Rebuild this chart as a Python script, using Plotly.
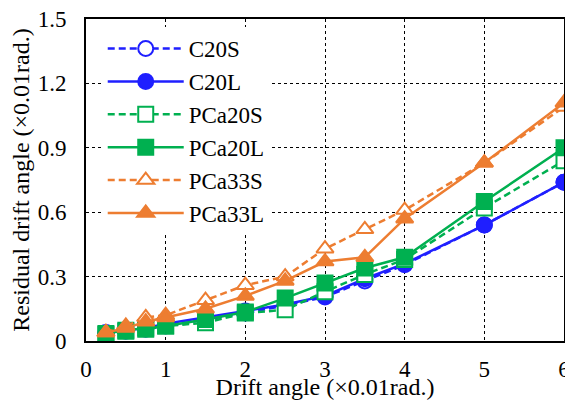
import plotly.graph_objects as go

drift = [0.25, 0.5, 0.75, 1, 1.5, 2, 2.5, 3, 3.5, 4, 5, 6]

C20S   = [0.035, 0.045, 0.055, 0.07, 0.10, 0.13, 0.165, 0.205, 0.28, 0.355, 0.54, 0.74]
C20L   = [0.04, 0.05, 0.06, 0.08, 0.11, 0.14, 0.17, 0.21, 0.29, 0.36, 0.54, 0.74]
PCa20S = [0.03, 0.045, 0.055, 0.07, 0.085, 0.13, 0.145, 0.23, 0.31, 0.38, 0.62, 0.84]
PCa20L = [0.035, 0.05, 0.06, 0.07, 0.10, 0.135, 0.20, 0.27, 0.34, 0.39, 0.65, 0.90]
PCa33S = [0.04, 0.07, 0.11, 0.12, 0.19, 0.26, 0.30, 0.43, 0.52, 0.61, 0.83, 1.09]
PCa33L = [0.04, 0.06, 0.09, 0.11, 0.15, 0.21, 0.28, 0.37, 0.39, 0.57, 0.83, 1.11]

BLUE = "#1F1FFF"
GREEN = "#00B050"
ORANGE = "#ED7D31"

series = [
    ("C20S", C20S, BLUE, "7px,4px", "circle", True),
    ("C20L", C20L, BLUE, "solid", "circle", False),
    ("PCa20S", PCa20S, GREEN, "7px,4px", "square", True),
    ("PCa20L", PCa20L, GREEN, "solid", "square", False),
    ("PCa33S", PCa33S, ORANGE, "7px,4px", "triangle-up", True),
    ("PCa33L", PCa33L, ORANGE, "solid", "triangle-up", False),
]

fig = go.Figure()
for name, vals, col, dash, sym, hollow in series:
    fig.add_trace(go.Scatter(
        x=drift, y=vals, name=name, mode="lines+markers",
        legendgroup=name,
        line=dict(color=col, dash=dash, width=2.5),
        marker=dict(symbol=sym, size=15, color="white" if hollow else col,
                    line=dict(color=col, width=2)),
    ))

font = dict(family="Times New Roman, Liberation Serif, serif", size=23, color="black")
tfont = dict(family="Times New Roman, Liberation Serif, serif", size=24, color="black")

fig.update_layout(
    width=565, height=392,
    margin=dict(l=78, r=9, t=11, b=59),
    paper_bgcolor="white", plot_bgcolor="white",
    font=font,
    showlegend=True,
    legend=dict(x=0.035, y=0.975, xanchor="left", yanchor="top",
                bgcolor="white", borderwidth=0, tracegroupgap=0,
                itemwidth=76, font=font),
    xaxis=dict(range=[0, 6], tickvals=[0, 1, 2, 3, 4, 5, 6],
               showgrid=True, gridcolor="black", griddash="dot", gridwidth=1,
               showline=True, linecolor="black", linewidth=2, mirror=True,
               zeroline=False, ticks="", automargin=False, ticklabeloverflow="allow",
               ticklabelstandoff=6, tickfont=font,
               title=dict(text="Drift angle (×0.01rad.)", standoff=5, font=tfont)),
    yaxis=dict(range=[0, 1.5], tickvals=[0, 0.3, 0.6, 0.9, 1.2, 1.5],
               ticktext=["0", "0.3", "0.6", "0.9", "1.2", "1.5"],
               showgrid=True, gridcolor="black", griddash="dot", gridwidth=1,
               showline=True, linecolor="black", linewidth=2, mirror=True,
               zeroline=False, ticks="", automargin=False, ticklabeloverflow="allow",
               ticklabelstandoff=13, tickfont=font,
               title=dict(text="Residual drift angle (×0.01rad.)", standoff=2, font=tfont)),
)

fig.write_html("out.html")
